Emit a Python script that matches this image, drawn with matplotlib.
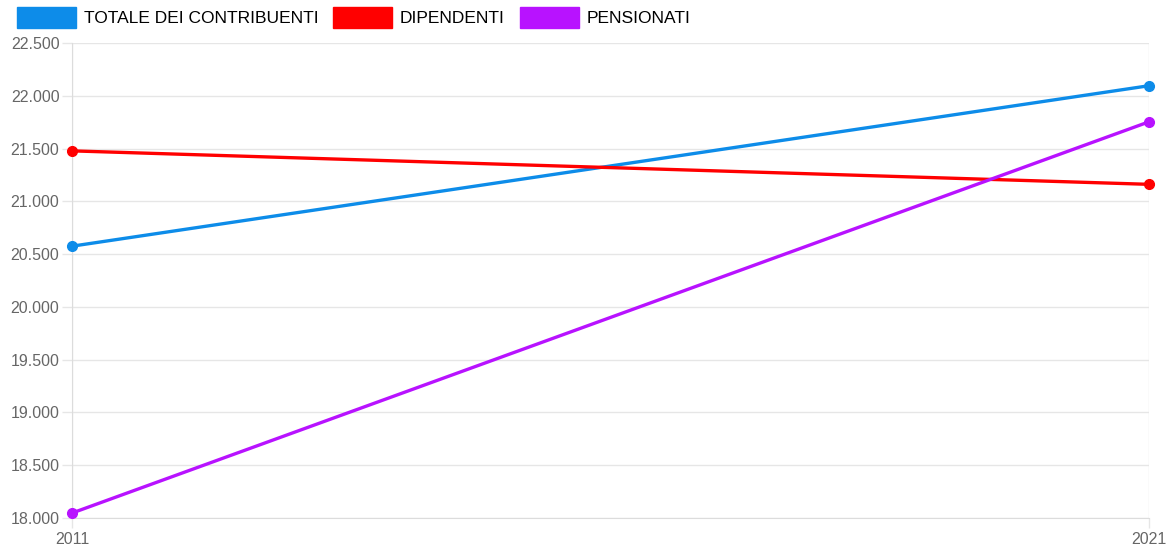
import numpy as np
import matplotlib.pyplot as plt
from matplotlib.patches import Rectangle
from matplotlib.ticker import FuncFormatter

plt.rcParams['font.family'] = ['Liberation Sans', 'DejaVu Sans']

anni = ['2011', '2021']
totale = [20575, 22095]
dipendenti = [21478, 21161]
pensionati = [18047, 21753]

serie = ['TOTALE DEI CONTRIBUENTI', 'DIPENDENTI', 'PENSIONATI']
colori = ['#0d8ce9', '#ff0000', '#b812ff']

fig = plt.figure(figsize=(11.76, 5.56), dpi=100)
ax = fig.add_axes([0.0612, 0.0683, 0.9158, 0.8544])

x = np.arange(len(anni))
for vals, col, nome in zip([totale, dipendenti, pensionati], colori, serie):
    ax.plot(x, vals, color=col, lw=2.4, marker='o', ms=7, label=nome,
            clip_on=False, zorder=3)

ax.set_xlim(0, 1)
ax.set_ylim(18000, 22500)
ax.set_yticks(np.arange(18000, 22501, 500))
ax.set_xticks(x)
ax.set_xticklabels(anni)
ax.yaxis.set_major_formatter(FuncFormatter(lambda v, p: '{:,.0f}'.format(v).replace(',', '.')))

grid_col = '#e6e6e6'
ax.grid(True, color=grid_col, lw=1)
for s in ['top', 'right']:
    ax.spines[s].set_visible(False)
for s in ['left', 'bottom']:
    ax.spines[s].set_color('#dcdcdc')
ax.tick_params(axis='both', colors=grid_col, length=7, width=1,
               labelcolor='#666666', labelsize=11.5)
ax.tick_params(axis='y', pad=2)
ax.tick_params(axis='x', pad=3)

handles = [Rectangle((0, 0), 1, 1, facecolor=c, edgecolor=c) for c in colori]
fig.legend(handles, serie, loc='upper left', bbox_to_anchor=(17 / 1176, 1 - 7 / 556),
           ncol=3, frameon=False, fontsize=12.5, handlelength=3.4, handleheight=1.45,
           handletextpad=0.45, columnspacing=0.85, borderaxespad=0, borderpad=0)

fig.savefig('out.png', dpi=100)
